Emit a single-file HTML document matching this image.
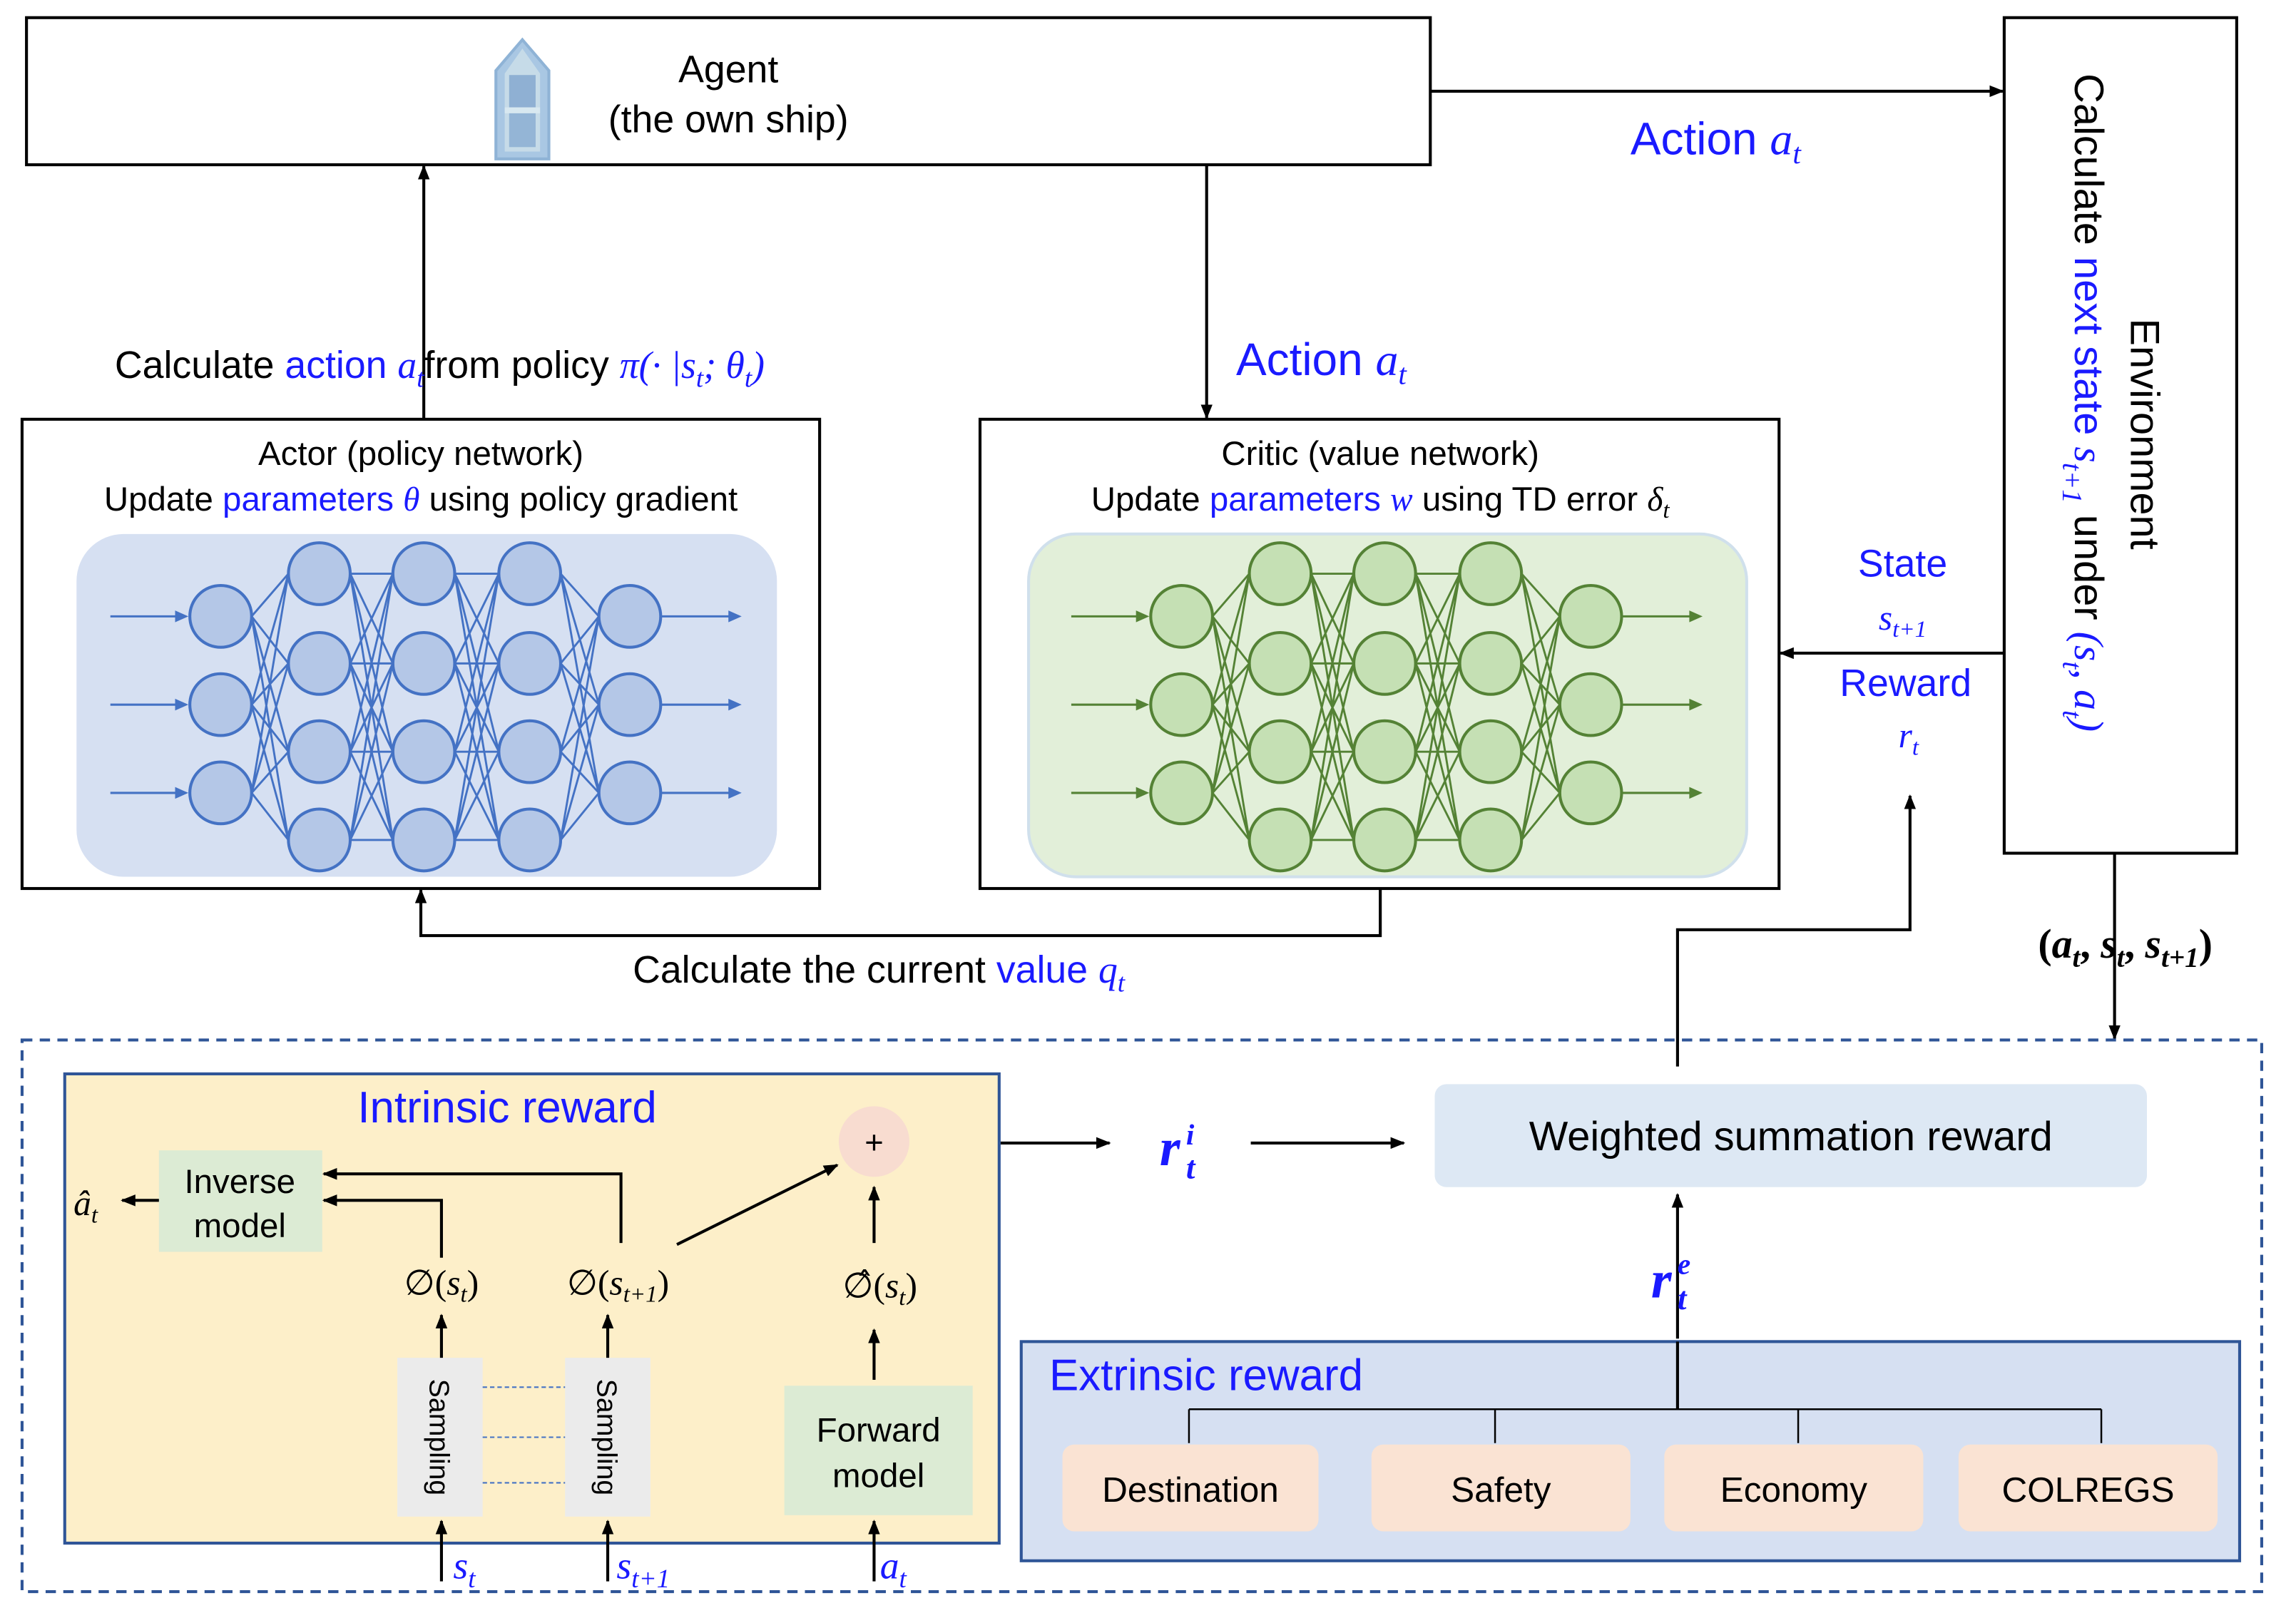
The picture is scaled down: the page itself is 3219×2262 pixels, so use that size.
<!DOCTYPE html>
<html><head><meta charset="utf-8"><style>
html,body{margin:0;padding:0;background:#fff;}
svg{display:block;}
text{font-family:"Liberation Sans",sans-serif;}
.m{font-family:"Liberation Serif",serif;font-style:italic;}
</style></head><body>
<svg width="3219" height="2262" viewBox="0 0 1560.3 1096.5" preserveAspectRatio="none" xmlns="http://www.w3.org/2000/svg" xmlns:xlink="http://www.w3.org/1999/xlink">
<defs>
<marker id="a" markerWidth="10" markerHeight="8" refX="9" refY="4" orient="auto" markerUnits="userSpaceOnUse"><path d="M0,0 L10,4 L0,8 z" fill="#000"/></marker>
<marker id="ac" markerWidth="9" markerHeight="7" refX="8" refY="3.5" orient="auto" markerUnits="userSpaceOnUse"><path d="M0,0 L9,3.5 L0,7 z" fill="context-stroke"/></marker>
<g id="net">
<path stroke="currentColor" stroke-width="1.4" fill="none" d="
M171 419L196 390M171 419L196 451M171 419L196 511M171 419L196 571M171 479L196 390M171 479L196 451M171 479L196 511M171 479L196 571M171 539L196 390M171 539L196 451M171 539L196 511M171 539L196 571
M238 390L267 390M238 390L267 451M238 390L267 511M238 390L267 571M238 451L267 390M238 451L267 451M238 451L267 511M238 451L267 571M238 511L267 390M238 511L267 451M238 511L267 511M238 511L267 571M238 571L267 390M238 571L267 451M238 571L267 511M238 571L267 571
M309 390L339 390M309 390L339 451M309 390L339 511M309 390L339 571M309 451L339 390M309 451L339 451M309 451L339 511M309 451L339 571M309 511L339 390M309 511L339 451M309 511L339 511M309 511L339 571M309 571L339 390M309 571L339 451M309 571L339 511M309 571L339 571
M381 390L407 419M381 390L407 479M381 390L407 539M381 451L407 419M381 451L407 479M381 451L407 539M381 511L407 419M381 511L407 479M381 511L407 539M381 571L407 419M381 571L407 479M381 571L407 539"/>
<g stroke="currentColor" stroke-width="1.5">
<path d="M75 419H120" /><path d="M75 479H120"/><path d="M75 539H120"/>
<path d="M449 419H496"/><path d="M449 479H496"/><path d="M449 539H496"/>
</g>
<g fill="currentColor">
<path d="M128 419l-9-4v8z"/><path d="M128 479l-9-4v8z"/><path d="M128 539l-9-4v8z"/>
<path d="M504 419l-9-4v8z"/><path d="M504 479l-9-4v8z"/><path d="M504 539l-9-4v8z"/>
</g>
<g stroke="currentColor" stroke-width="2">
<circle cx="150" cy="419" r="21"/><circle cx="150" cy="479" r="21"/><circle cx="150" cy="539" r="21"/>
<circle cx="217" cy="390" r="21"/><circle cx="217" cy="451" r="21"/><circle cx="217" cy="511" r="21"/><circle cx="217" cy="571" r="21"/>
<circle cx="288" cy="390" r="21"/><circle cx="288" cy="451" r="21"/><circle cx="288" cy="511" r="21"/><circle cx="288" cy="571" r="21"/>
<circle cx="360" cy="390" r="21"/><circle cx="360" cy="451" r="21"/><circle cx="360" cy="511" r="21"/><circle cx="360" cy="571" r="21"/>
<circle cx="428" cy="419" r="21"/><circle cx="428" cy="479" r="21"/><circle cx="428" cy="539" r="21"/>
</g>
</g>
</defs>
<g stroke="#000" stroke-width="2" fill="none">
<rect x="18" y="12" width="954" height="100" fill="#fff"/>
<rect x="1362" y="12" width="158" height="568" fill="#fff"/>
<rect x="15" y="285" width="542" height="319"/>
<rect x="666" y="285" width="543" height="319"/>
<line x1="972" y1="62" x2="1361" y2="62" marker-end="url(#a)"/>
<line x1="288" y1="285" x2="288" y2="113" marker-end="url(#a)"/>
<line x1="820" y1="112" x2="820" y2="284" marker-end="url(#a)"/>
<line x1="1362" y1="444" x2="1210" y2="444" marker-end="url(#a)"/>
<polyline points="1140,725 1140,632 1298,632 1298,541" marker-end="url(#a)"/>
<polyline points="938,604 938,636 286,636 286,605" marker-end="url(#a)"/>
<line x1="1437" y1="580" x2="1437" y2="706" marker-end="url(#a)"/>
</g>
<g>
<path d="M355,27 L373,48 L373,108 L337,108 L337,48 Z" fill="#a9c7e3" stroke="#8fb3d6" stroke-width="2"/>
<path d="M355,33 L367,50 L367,103 L343,103 L343,50 Z" fill="#c6dbe8"/>
<rect x="346" y="51" width="18" height="22" fill="#8fb0d3"/>
<rect x="346" y="76" width="18" height="24" fill="#94b5d6"/>
<rect x="343" y="73" width="24" height="4" fill="#d8e8f0"/>
</g>
<text x="495" y="56" font-size="26" text-anchor="middle">Agent</text>
<text x="495" y="90" font-size="26" text-anchor="middle">(the own ship)</text>
<text x="1108" y="105" font-size="31" fill="#1a1aff">Action <tspan class="m">a</tspan><tspan class="m" font-size="20" dy="6">t</tspan></text>
<text x="78" y="257" font-size="26">Calculate <tspan fill="#1a1aff">action</tspan> <tspan class="m" fill="#1a1aff">a</tspan><tspan class="m" fill="#1a1aff" font-size="18" dy="6">t</tspan><tspan dy="-6">from policy </tspan><tspan class="m" fill="#1a1aff">π(· |s</tspan><tspan class="m" fill="#1a1aff" font-size="18" dy="6">t</tspan><tspan class="m" fill="#1a1aff" dy="-6">; θ</tspan><tspan class="m" fill="#1a1aff" font-size="18" dy="6">t</tspan><tspan class="m" fill="#1a1aff" dy="-6">)</tspan></text>
<text x="840" y="255" font-size="31" fill="#1a1aff">Action <tspan class="m">a</tspan><tspan class="m" font-size="20" dy="6">t</tspan></text>
<g transform="translate(1410,50) rotate(90)"><text x="0" y="0" font-size="28">Calculate <tspan fill="#1a1aff">next state </tspan><tspan class="m" fill="#1a1aff">s</tspan><tspan class="m" fill="#1a1aff" font-size="19" dy="8">t+1</tspan><tspan dy="-8"> under </tspan><tspan class="m" fill="#1a1aff">(s</tspan><tspan class="m" fill="#1a1aff" font-size="19" dy="8">t</tspan><tspan class="m" fill="#1a1aff" dy="-8">, a</tspan><tspan class="m" fill="#1a1aff" font-size="19" dy="8">t</tspan><tspan class="m" fill="#1a1aff" dy="-8">)</tspan></text></g>
<g transform="translate(1448,295) rotate(90)"><text x="0" y="0" font-size="28" text-anchor="middle">Environment</text></g>
<text x="286" y="316" font-size="23" text-anchor="middle">Actor (policy network)</text>
<text x="286" y="347" font-size="23" text-anchor="middle">Update <tspan fill="#1a1aff">parameters <tspan class="m">θ</tspan></tspan> using policy gradient</text>
<text x="938" y="316" font-size="23" text-anchor="middle">Critic (value network)</text>
<text x="938" y="347" font-size="23" text-anchor="middle">Update <tspan fill="#1a1aff">parameters <tspan class="m">w</tspan></tspan> using TD error <tspan class="m">δ</tspan><tspan class="m" font-size="16" dy="5">t</tspan></text>
<rect x="52" y="363" width="476" height="233" rx="32" fill="#d6e0f2"/>
<rect x="699" y="363" width="488" height="233" rx="32" fill="#e2efd9" stroke="#d0e0ec" stroke-width="2"/>
<use xlink:href="#net" href="#net" style="color:#4472c4" fill="#b4c7e7"/>
<use xlink:href="#net" href="#net" transform="translate(653,0)" style="color:#548235" fill="#c5e0b4"/>
<text x="1293" y="392" font-size="26" fill="#1a1aff" text-anchor="middle">State</text>
<text x="1293" y="428" font-size="24" fill="#1a1aff" text-anchor="middle" class="m">s<tspan font-size="16" dy="5">t+1</tspan></text>
<text x="1295" y="473" font-size="26" fill="#1a1aff" text-anchor="middle">Reward</text>
<text x="1297" y="508" font-size="24" fill="#1a1aff" text-anchor="middle" class="m">r<tspan font-size="16" dy="5">t</tspan></text>
<text x="430" y="668" font-size="26">Calculate the current <tspan fill="#1a1aff">value <tspan class="m">q</tspan><tspan class="m" font-size="18" dy="6">t</tspan></tspan></text>
<text x="1385" y="651" font-size="28" font-weight="bold" style="font-family:'Liberation Serif',serif">(<tspan class="m">a</tspan><tspan class="m" font-size="19" dy="6">t</tspan><tspan dy="-6">, </tspan><tspan class="m">s</tspan><tspan class="m" font-size="19" dy="6">t</tspan><tspan dy="-6">, </tspan><tspan class="m">s</tspan><tspan class="m" font-size="19" dy="6">t+1</tspan><tspan dy="-6">)</tspan></text>
<rect x="15" y="707" width="1522" height="375" fill="none" stroke="#2f5597" stroke-width="2" stroke-dasharray="7,5"/>
<rect x="44" y="730" width="635" height="319" fill="#fdefc9" stroke="#2f5597" stroke-width="2"/>
<text x="243" y="763" font-size="30" fill="#1a1aff">Intrinsic reward</text>
<rect x="108" y="782" width="111" height="69" fill="#dcebd4"/>
<text x="163" y="811" font-size="23" text-anchor="middle">Inverse</text>
<text x="163" y="841" font-size="23" text-anchor="middle">model</text>
<text x="50" y="826" font-size="24" class="m">â<tspan font-size="16" dy="5">t</tspan></text>
<rect x="270" y="923" width="58" height="108" fill="#ebebeb"/>
<rect x="384" y="923" width="58" height="108" fill="#ebebeb"/>
<g transform="translate(292,977) rotate(90)"><text font-size="19" text-anchor="middle" y="0">Sampling</text></g>
<g transform="translate(406,977) rotate(90)"><text font-size="19" text-anchor="middle" y="0">Sampling</text></g>
<g stroke="#4472c4" stroke-width="1" stroke-dasharray="3,2"><line x1="328" y1="943" x2="384" y2="943"/><line x1="328" y1="977" x2="384" y2="977"/><line x1="328" y1="1008" x2="384" y2="1008"/></g>
<rect x="533" y="942" width="128" height="88" fill="#dcebd4"/>
<text x="597" y="980" font-size="23" text-anchor="middle">Forward</text>
<text x="597" y="1011" font-size="23" text-anchor="middle">model</text>
<circle cx="594" cy="776" r="24" fill="#f8dcd0"/>
<text x="594" y="784" font-size="22" text-anchor="middle">+</text>
<text x="300" y="880" font-size="24" text-anchor="middle" style="font-family:'Liberation Serif',serif">∅(<tspan class="m">s</tspan><tspan class="m" font-size="16" dy="5">t</tspan><tspan dy="-5">)</tspan></text>
<text x="420" y="880" font-size="24" text-anchor="middle" style="font-family:'Liberation Serif',serif">∅(<tspan class="m">s</tspan><tspan class="m" font-size="16" dy="5">t+1</tspan><tspan dy="-5">)</tspan></text>
<text x="598" y="882" font-size="24" text-anchor="middle" style="font-family:'Liberation Serif',serif">∅̂(<tspan class="m">s</tspan><tspan class="m" font-size="16" dy="5">t</tspan><tspan dy="-5">)</tspan></text>
<g stroke="#000" stroke-width="2" fill="none">
<line x1="108" y1="816" x2="83" y2="816" marker-end="url(#a)"/>
<polyline points="300,855 300,816 220,816" marker-end="url(#a)"/>
<polyline points="422,845 422,798 220,798" marker-end="url(#a)"/>
<line x1="460" y1="846" x2="569" y2="792" marker-end="url(#a)"/>
<line x1="594" y1="845" x2="594" y2="807" marker-end="url(#a)"/>
<line x1="300" y1="923" x2="300" y2="894" marker-end="url(#a)"/>
<line x1="413" y1="923" x2="413" y2="894" marker-end="url(#a)"/>
<line x1="594" y1="938" x2="594" y2="904" marker-end="url(#a)"/>
<line x1="300" y1="1075" x2="300" y2="1034" marker-end="url(#a)"/>
<line x1="413" y1="1075" x2="413" y2="1034" marker-end="url(#a)"/>
<line x1="594" y1="1075" x2="594" y2="1034" marker-end="url(#a)"/>
<line x1="680" y1="777" x2="754" y2="777" marker-end="url(#a)"/>
<line x1="850" y1="777" x2="954" y2="777" marker-end="url(#a)"/>
<line x1="1140" y1="910" x2="1140" y2="812" marker-end="url(#a)"/>
</g>
<text x="308" y="1073" font-size="26" fill="#1a1aff" class="m">s<tspan font-size="18" dy="6">t</tspan></text>
<text x="419" y="1073" font-size="26" fill="#1a1aff" class="m">s<tspan font-size="18" dy="6">t+1</tspan></text>
<text x="598" y="1073" font-size="26" fill="#1a1aff" class="m">a<tspan font-size="18" dy="6">t</tspan></text>
<text x="788" y="792" font-size="36" fill="#1a1aff" font-weight="bold" class="m">r</text>
<text x="806" y="778" font-size="20" fill="#1a1aff" font-weight="bold" class="m">i</text>
<text x="806" y="801" font-size="22" fill="#1a1aff" font-weight="bold" class="m">t</text>
<text x="1122" y="882" font-size="36" fill="#1a1aff" font-weight="bold" class="m">r</text>
<text x="1140" y="866" font-size="20" fill="#1a1aff" font-weight="bold" class="m">e</text>
<text x="1140" y="890" font-size="22" fill="#1a1aff" font-weight="bold" class="m">t</text>
<rect x="975" y="737" width="484" height="70" rx="8" fill="#dde8f4"/>
<text x="1217" y="782" font-size="28" text-anchor="middle">Weighted summation reward</text>
<rect x="694" y="912" width="828" height="149" fill="#d6e0f2" stroke="#2f5597" stroke-width="2"/>
<text x="713" y="945" font-size="30" fill="#1a1aff">Extrinsic reward</text>
<g stroke="#000" stroke-width="1.2" fill="none">
<line x1="808" y1="958" x2="1428" y2="958"/>
<line x1="808" y1="958" x2="808" y2="981"/><line x1="1016" y1="958" x2="1016" y2="981"/>
<line x1="1222" y1="958" x2="1222" y2="981"/><line x1="1428" y1="958" x2="1428" y2="981"/>
<line x1="1140" y1="958" x2="1140" y2="912" stroke-width="2"/>
</g>
<g fill="#fae3d3">
<rect x="722" y="982" width="174" height="59" rx="8"/><rect x="932" y="982" width="176" height="59" rx="8"/>
<rect x="1131" y="982" width="176" height="59" rx="8"/><rect x="1331" y="982" width="176" height="59" rx="8"/>
</g>
<g font-size="24" text-anchor="middle">
<text x="809" y="1021">Destination</text><text x="1020" y="1021">Safety</text>
<text x="1219" y="1021">Economy</text><text x="1419" y="1021">COLREGS</text>
</g>
</svg>
</body></html>
